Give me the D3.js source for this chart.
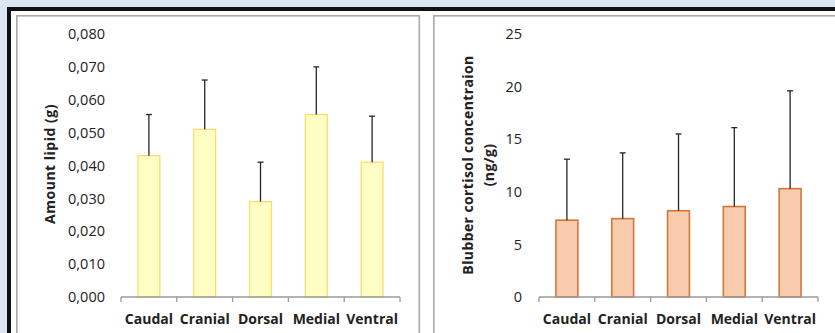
<!DOCTYPE html>
<html>
<head>
<meta charset="utf-8">
<script src="https://cdn.jsdelivr.net/npm/d3@7"></script>
<style>
  html, body { margin: 0; padding: 0; background: #dce6f2; }
  svg { display: block; }
  text { font-family: "Open Sans", "Liberation Sans", sans-serif; }
</style>
</head>
<body>
<svg id="chart" width="835" height="333"></svg>
<script>
const categories = ["Caudal", "Cranial", "Dorsal", "Medial", "Ventral"];

const lipidMeans  = [0.043, 0.051, 0.029, 0.0555, 0.041];
const lipidErrors = [0.0125, 0.015, 0.012, 0.0145, 0.014];
const lipidTicks  = [0, 0.01, 0.02, 0.03, 0.04, 0.05, 0.06, 0.07, 0.08];

const cortisolMeans  = [7.3, 7.45, 8.2, 8.6, 10.3];
const cortisolErrors = [5.8, 6.25, 7.3, 7.5, 9.3];
const cortisolTicks  = [0, 5, 10, 15, 20, 25];

const svg = d3.select("#chart");

// background frame
svg.append("rect").attr("x", 0).attr("y", 0).attr("width", 835).attr("height", 333).attr("fill", "#dce6f2");
svg.append("rect").attr("x", 7).attr("y", 7).attr("width", 840).attr("height", 340).attr("fill", "#111");
svg.append("rect").attr("x", 11).attr("y", 11).attr("width", 840).attr("height", 340).attr("fill", "#fff");

function drawPanel(opts) {
  const g = svg.append("g");
  // panel border
  g.append("rect")
    .attr("x", opts.panel[0]).attr("y", opts.panel[1])
    .attr("width", opts.panel[2]).attr("height", opts.panel[3])
    .attr("fill", "#fff").attr("stroke", "#a9a9a9").attr("stroke-width", 1.6);

  const x = d3.scaleBand().domain(categories)
    .range(opts.xRange).paddingInner(0.59).paddingOuter(0.295);
  const y = d3.scaleLinear().domain(opts.domain).range([297, 34]);

  // y tick labels
  g.selectAll(".ytl").data(opts.ticks).join("text")
    .attr("x", opts.labelX).attr("y", d => y(d)).attr("dy", "0.36em")
    .attr("text-anchor", "end").attr("font-size", "14.5px").attr("fill", "#222")
    .text(opts.fmt);

  // bars
  g.selectAll(".bar").data(opts.means).join("rect")
    .attr("x", (d, i) => x(categories[i]) + 0.5)
    .attr("y", d => y(d))
    .attr("width", x.bandwidth() - 1)
    .attr("height", d => y(0) - y(d))
    .attr("fill", opts.fill).attr("stroke", opts.stroke).attr("stroke-width", opts.sw);

  // error bars (upper only)
  const eb = g.selectAll(".eb").data(opts.means).join("g");
  eb.append("line")
    .attr("x1", (d, i) => x(categories[i]) + x.bandwidth() / 2)
    .attr("x2", (d, i) => x(categories[i]) + x.bandwidth() / 2)
    .attr("y1", d => y(d))
    .attr("y2", (d, i) => y(d + opts.errors[i]))
    .attr("stroke", "#262626").attr("stroke-width", 1.3);
  eb.append("line")
    .attr("x1", (d, i) => x(categories[i]) + x.bandwidth() / 2 - 3)
    .attr("x2", (d, i) => x(categories[i]) + x.bandwidth() / 2 + 3)
    .attr("y1", (d, i) => y(d + opts.errors[i]))
    .attr("y2", (d, i) => y(d + opts.errors[i]))
    .attr("stroke", "#262626").attr("stroke-width", 1.3);

  // x axis
  const axis = d3.axisBottom(x).tickSize(0).tickPadding(0);
  const ag = g.append("g").attr("transform", `translate(0,${y(0)})`).call(axis);
  ag.select(".domain").attr("stroke", "#9a9a9a").attr("stroke-width", 1.3)
    .attr("d", `M${opts.xRange[0]},0H${opts.xRange[1]}`);
  ag.selectAll(".tick text").attr("y", 27).attr("dy", 0)
    .attr("font-size", "14px").attr("font-weight", "bold").attr("fill", "#222")
    .attr("font-family", "'Open Sans', sans-serif");
  const step = x.step();
  const bounds = d3.range(categories.length + 1).map(i => opts.xRange[0] + i * step);
  ag.selectAll(".bnd").data(bounds).join("line")
    .attr("x1", d => d).attr("x2", d => d).attr("y1", 0).attr("y2", 5)
    .attr("stroke", "#9a9a9a").attr("stroke-width", 1.3);

  // y title
  const t = g.append("text")
    .attr("transform", `translate(${opts.titleX},${opts.titleY}) rotate(-90)`)
    .attr("text-anchor", "middle").attr("font-size", "14px").attr("font-weight", "bold")
    .attr("letter-spacing", opts.titleLS)
    .attr("fill", "#222");
  opts.title.forEach((line, i) => {
    t.append("tspan").attr("x", 0).attr("y", i * opts.titleGap).attr("dy", "0.35em").text(line);
  });
}

drawPanel({
  panel: [16.8, 15.8, 402.5, 330],
  xRange: [121, 400],
  domain: [0, 0.08],
  ticks: lipidTicks,
  fmt: d => d3.format(".3f")(d).replace(".", ","),
  labelX: 105,
  means: lipidMeans,
  errors: lipidErrors,
  fill: "#ffffc4", stroke: "#ffdb6e", sw: 1.3,
  title: ["Amount lipid (g)"],
  titleX: 50, titleY: 164, titleGap: 0, titleLS: "0.5px"
});

drawPanel({
  panel: [433.8, 15.8, 420, 330],
  xRange: [539, 818],
  domain: [0, 25],
  ticks: cortisolTicks,
  fmt: d => String(d),
  labelX: 522,
  means: cortisolMeans,
  errors: cortisolErrors,
  fill: "#f8cbad", stroke: "#d2773a", sw: 1.6,
  title: ["Blubber cortisol concentraion", "(ng/g)"],
  titleX: 468, titleY: 165, titleGap: 21, titleLS: "0.4px"
});
</script>
</body>
</html>
